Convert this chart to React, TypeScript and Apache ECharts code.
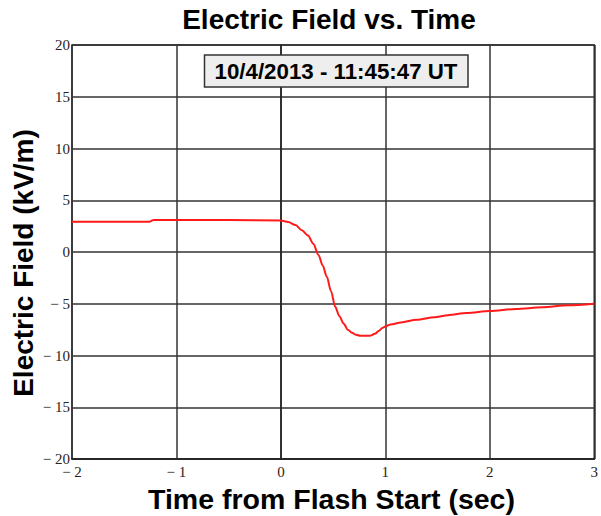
import React, { useEffect, useRef } from "react";
import * as echarts from "echarts";

const timeSec = [-2, -1.26, -1.22, -0.5, 0, 0.07, 0.14, 0.2, 0.26, 0.31, 0.36, 0.4, 0.44, 0.48, 0.52, 0.56, 0.6, 0.64, 0.68, 0.72, 0.76, 0.8, 0.85, 0.9, 0.94, 0.97, 1.0, 1.05, 1.15, 1.3, 1.47, 1.6, 1.78, 2.0, 2.25, 2.5, 2.75, 3.0];
const fieldKVm = [2.92, 2.93, 3.08, 3.1, 3.05, 2.9, 2.6, 2.1, 1.6, 0.8, -0.3, -1.3, -2.4, -3.8, -5.3, -6.2, -6.9, -7.5, -7.8, -8.0, -8.1, -8.1, -8.1, -7.9, -7.6, -7.35, -7.2, -7.0, -6.8, -6.55, -6.3, -6.1, -5.9, -5.7, -5.5, -5.35, -5.15, -5.0];

const titleText = "Electric Field vs. Time";
const stampText = "10/4/2013 - 11:45:47 UT";
const xAxisTitle = "Time from Flash Start (sec)";
const yAxisTitle = "Electric Field (kV/m)";

const fmt = (v: number) => (v < 0 ? "\u2212 " + Math.abs(v) : String(v));

export default function App() {
  const ref = useRef<HTMLDivElement>(null);
  useEffect(() => {
    if (!ref.current) return;
    const chart = echarts.init(ref.current, null, { renderer: "svg" });
    const data = timeSec.map((t, i) => [t, fieldKVm[i]]);
    const sans = "Arial, 'Liberation Sans', sans-serif";
    const serif = "'Times New Roman', 'Liberation Serif', serif";
    const tickColor = "#2b2118";
    chart.setOption({
      animation: false,
      backgroundColor: "#ffffff",
      grid: {
        left: 72,
        right: 3,
        top: 45,
        bottom: 57,
        show: true,
        borderColor: "#222",
        borderWidth: 1.5,
      },
      xAxis: {
        type: "value",
        min: -2,
        max: 3,
        interval: 1,
        axisLine: { show: true, onZero: false, lineStyle: { color: "#222", width: 1.5 } },
        axisTick: { show: false },
        splitLine: { show: true, lineStyle: { color: "#333", width: 1.5 } },
        axisLabel: {
          formatter: fmt,
          fontFamily: serif,
          fontSize: 15,
          color: tickColor,
          margin: 5,
        },
      },
      yAxis: {
        type: "value",
        min: -20,
        max: 20,
        interval: 5,
        axisLine: { show: true, lineStyle: { color: "#222", width: 1.5 } },
        axisTick: { show: false },
        splitLine: { show: true, lineStyle: { color: "#333", width: 1.5 } },
        axisLabel: {
          formatter: fmt,
          fontFamily: serif,
          fontSize: 15,
          color: tickColor,
          margin: 2,
        },
      },
      series: [
        {
          type: "line",
          data,
          showSymbol: false,
          smooth: 0.3,
          smoothMonotone: "x",
          lineStyle: { color: "#ff1a1a", width: 2 },
        },
      ],
      graphic: [
        {
          type: "text",
          x: 329,
          y: 19.6,
          style: {
            text: titleText,
            fontFamily: sans,
            fontWeight: "bold",
            fontSize: 28,
            fill: "#000",
            textAlign: "center",
            textVerticalAlign: "middle",
          },
        },
        {
          type: "rect",
          shape: { x: 204.5, y: 55, width: 263.5, height: 32 },
          style: { fill: "#eeeeee", stroke: "#333", lineWidth: 1.5 },
          z: 10,
        },
        {
          type: "text",
          x: 336,
          y: 71.6,
          z: 11,
          style: {
            text: stampText,
            fontFamily: sans,
            fontWeight: "bold",
            fontSize: 22.3,
            fill: "#000",
            textAlign: "center",
            textVerticalAlign: "middle",
          },
        },
        {
          type: "text",
          x: 331.5,
          y: 499,
          style: {
            text: xAxisTitle,
            fontFamily: sans,
            fontWeight: "bold",
            fontSize: 28.5,
            fill: "#000",
            textAlign: "center",
            textVerticalAlign: "middle",
          },
        },
        {
          type: "text",
          x: 23,
          y: 263,
          rotation: Math.PI / 2,
          style: {
            text: yAxisTitle,
            fontFamily: sans,
            fontWeight: "bold",
            fontSize: 28,
            fill: "#000",
            textAlign: "center",
            textVerticalAlign: "middle",
          },
        },
      ],
    });
    return () => chart.dispose();
  }, []);
  return (
    <div
      ref={ref}
      style={{ position: "fixed", left: 0, top: 0, width: 601, height: 516 }}
    />
  );
}
